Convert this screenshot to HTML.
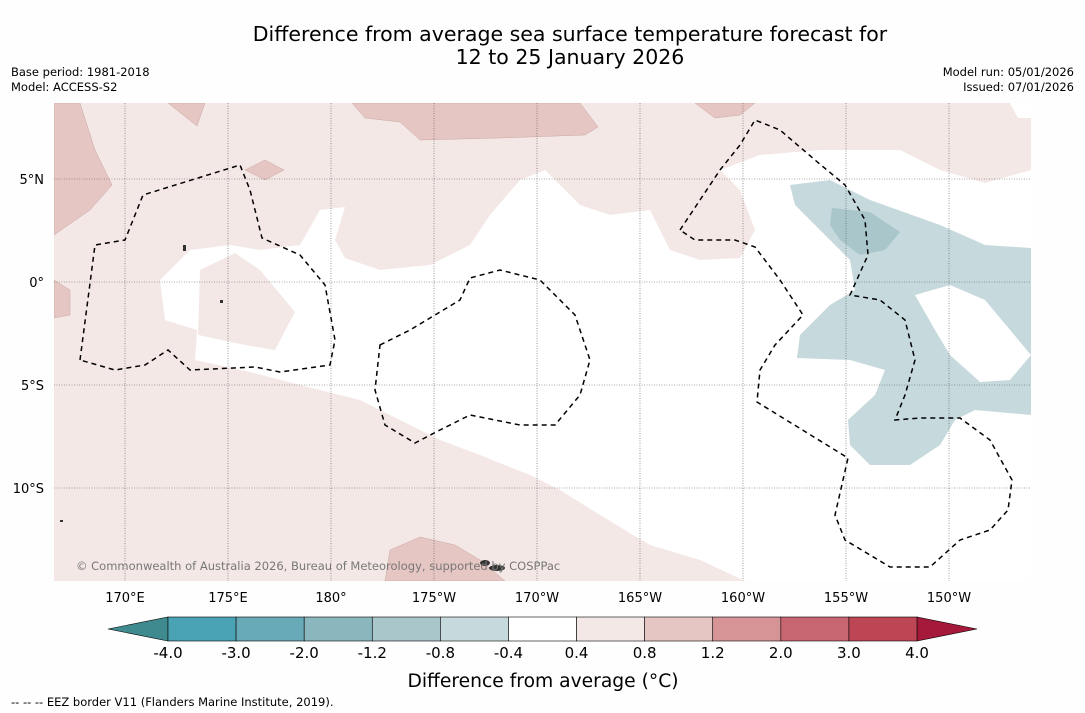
<!DOCTYPE html>
<html><head><meta charset="utf-8"><style>
body{margin:0;background:#fff;font-family:"DejaVu Sans","Liberation Sans",sans-serif;}
svg{display:block;font-family:"DejaVu Sans","Liberation Sans",sans-serif;}
</style></head><body>
<svg width="1085" height="713" viewBox="0 0 1085 713">
<rect width="1085" height="713" fill="#fefefe"/>
<text x="570" y="41" text-anchor="middle" font-size="20.5" fill="#000">Difference from average sea surface temperature forecast for</text>
<text x="570" y="64" text-anchor="middle" font-size="20.5" fill="#000">12 to 25 January 2026</text>
<text x="11" y="76" font-size="11.5">Base period: 1981-2018</text>
<text x="11" y="91" font-size="11.5">Model: ACCESS-S2</text>
<text x="1074" y="76" font-size="11.5" text-anchor="end">Model run: 05/01/2026</text>
<text x="1074" y="91" font-size="11.5" text-anchor="end">Issued: 07/01/2026</text>

<g>
<clipPath id="mc"><rect x="54" y="103" width="977" height="478"/></clipPath>
<g clip-path="url(#mc)">
<rect x="54" y="103" width="977" height="478" fill="#f4e8e7"/>
<polygon fill="#fff" points="300,245 320,210 345,207 335,240 345,258 380,270 430,265 470,245 490,215 520,180 545,170 580,205 610,215 650,210 670,250 700,260 740,258 755,230 740,190 720,170 760,155 820,150 900,150 940,170 985,183 1031,170 1031,581 745,581 700,560 650,545 600,515 560,490 530,475 480,455 440,440 400,420 360,400 300,385 250,372 195,360 197,330 165,320 160,280 190,250 230,245 260,250"/>
<polygon fill="#f4e8e7" points="200,270 235,253 260,270 295,312 275,350 245,345 198,335"/>
<polygon fill="#fff" points="1010,103 1031,103 1031,118 1018,118"/>
<g fill="#e6c6c2" stroke="#c9a8a4" stroke-width="0.5">
<polygon points="352,103 365,118 400,122 420,140 500,138 585,135 598,127 580,103"/>
<polygon points="54,103 80,103 95,150 112,185 90,210 54,235"/>
<polygon points="54,280 70,290 70,315 54,318"/>
<polygon points="385,581 390,550 420,537 455,545 480,560 505,581"/>
<polygon points="168,103 205,103 197,126"/>
<polygon points="695,103 755,103 740,115 715,118"/>
<polygon points="245,170 265,160 284,170 265,180"/>
</g>
<polygon fill="#c6d9dc" points="790,185 830,180 870,200 940,225 985,245 1031,248 1031,415 975,410 955,420 940,445 910,465 870,465 850,445 848,420 875,395 885,370 850,360 797,358 800,335 830,305 855,290 850,260 815,225 795,205"/>
<polygon fill="#fff" points="915,295 950,285 985,300 1031,355 1010,380 980,382 950,355 935,330"/>
<polygon fill="#a9c6cb" points="832,208 870,212 900,232 885,250 860,255 840,240 830,225"/>
<g id="grid" stroke="#555" stroke-width="0.6" stroke-dasharray="1,1.5"></g>
<g fill="none" stroke="#000" stroke-width="1.5" stroke-dasharray="5,4">
<polygon points="80,360 95,245 125,240 143,195 240,165 250,190 262,238 300,255 325,285 335,340 330,365 280,372 255,367 190,370 168,350 145,365 115,370"/>
<polygon points="380,345 410,330 460,300 470,278 500,270 540,280 575,315 590,360 580,395 555,425 520,425 470,415 440,430 415,443 385,425 375,390"/>
<polygon points="680,230 700,200 720,170 740,145 755,120 780,130 815,160 845,185 865,220 868,255 850,295 880,300 905,320 915,360 905,395 895,420 920,418 960,418 990,440 1012,480 1008,510 990,530 960,540 930,567 890,567 845,540 835,515 848,458 757,402 760,370 775,345 803,315 780,280 755,247 735,240 695,240"/>
</g>
<g fill="#333">
<ellipse cx="497" cy="568" rx="8" ry="3"/><ellipse cx="485" cy="563" rx="5" ry="3"/>
<rect x="183" y="245" width="3" height="6"/><rect x="220" y="300" width="3" height="3"/><rect x="60" y="520" width="3" height="2"/>
</g>
<text x="76" y="570" font-size="11.5" fill="#777">© Commonwealth of Australia 2026, Bureau of Meteorology, supported by COSPPac</text>
</g>
</g>
<g id="axislabels" font-size="13" fill="#000"></g>

<g id="cbar"></g>
<text x="543" y="687" text-anchor="middle" font-size="18.7">Difference from average (°C)</text>
<text x="11" y="706" font-size="11.5">--  --  -- EEZ border V11 (Flanders Marine Institute, 2019).</text>
</svg>
<script>
const lonTicks=[170,175,180,185,190,195,200,205,210];
const lonLabels=["170°E","175°E","180°","175°W","170°W","165°W","160°W","155°W","150°W"];
const latTicks=[5,0,-5,-10];
const latLabels=["5°N","0°","5°S","10°S"];
const levels=["-4.0","-3.0","-2.0","-1.2","-0.8","-0.4","0.4","0.8","1.2","2.0","3.0","4.0"];
const binColors=["#4aa3b4","#68aab8","#8ab6bd","#a9c6cb","#c6d9dc","#ffffff","#f4e8e7","#e6c6c2","#d69497","#c76570","#bd4655"];
const NS="http://www.w3.org/2000/svg";
const xLon=l=>125+(l-170)*20.6, yLat=l=>282-l*20.6;
const grid=document.getElementById('grid'), al=document.getElementById('axislabels');
lonTicks.forEach((l,i)=>{
 const ln=document.createElementNS(NS,'line');
 
 
 ln.setAttribute('x1',xLon(l));ln.setAttribute('x2',xLon(l));ln.setAttribute('y1',103);ln.setAttribute('y2',581);
 grid.appendChild(ln);
 const t=document.createElementNS(NS,'text');
 
 
 t.setAttribute('x',xLon(l));t.setAttribute('y',602);t.setAttribute('text-anchor','middle');t.textContent=lonLabels[i];
 al.appendChild(t);
});
latTicks.forEach((l,i)=>{
 const ln=document.createElementNS(NS,'line');
 
 
 ln.setAttribute('x1',54);ln.setAttribute('x2',1031);ln.setAttribute('y1',yLat(l));ln.setAttribute('y2',yLat(l));
 grid.appendChild(ln);
 const t=document.createElementNS(NS,'text');
 
 
 t.setAttribute('x',44);t.setAttribute('y',yLat(l)+5);t.setAttribute('text-anchor','end');t.textContent=latLabels[i];
 al.appendChild(t);
});
const cb=document.getElementById('cbar');
const x0=168,x1=917,y0=617,h=24,w=(x1-x0)/binColors.length;
const lt=document.createElementNS(NS,'polygon');


lt.setAttribute('points',`${x0},${y0} ${x0},${y0+h} 108,${y0+h/2}`);lt.setAttribute('fill','#3f8a8f');lt.setAttribute('stroke','#000');lt.setAttribute('stroke-width','0.6');
cb.appendChild(lt);
const rt=document.createElementNS(NS,'polygon');


rt.setAttribute('points',`${x1},${y0} ${x1},${y0+h} 977,${y0+h/2}`);rt.setAttribute('fill','#a5193a');rt.setAttribute('stroke','#000');rt.setAttribute('stroke-width','0.6');
cb.appendChild(rt);
binColors.forEach((c,i)=>{
 const r=document.createElementNS(NS,'rect');
 
 
 r.setAttribute('x',x0+i*w);r.setAttribute('y',y0);r.setAttribute('width',w);r.setAttribute('height',h);
 r.setAttribute('fill',c);r.setAttribute('stroke','#000');r.setAttribute('stroke-width','0.6');
 cb.appendChild(r);
});
levels.forEach((v,i)=>{
 const t=document.createElementNS(NS,'text');
 
 
 t.setAttribute('x',x0+i*w);t.setAttribute('y',658);t.setAttribute('text-anchor','middle');t.setAttribute('font-size','15');t.textContent=v;
 cb.appendChild(t);
});
</script>
</body></html>
